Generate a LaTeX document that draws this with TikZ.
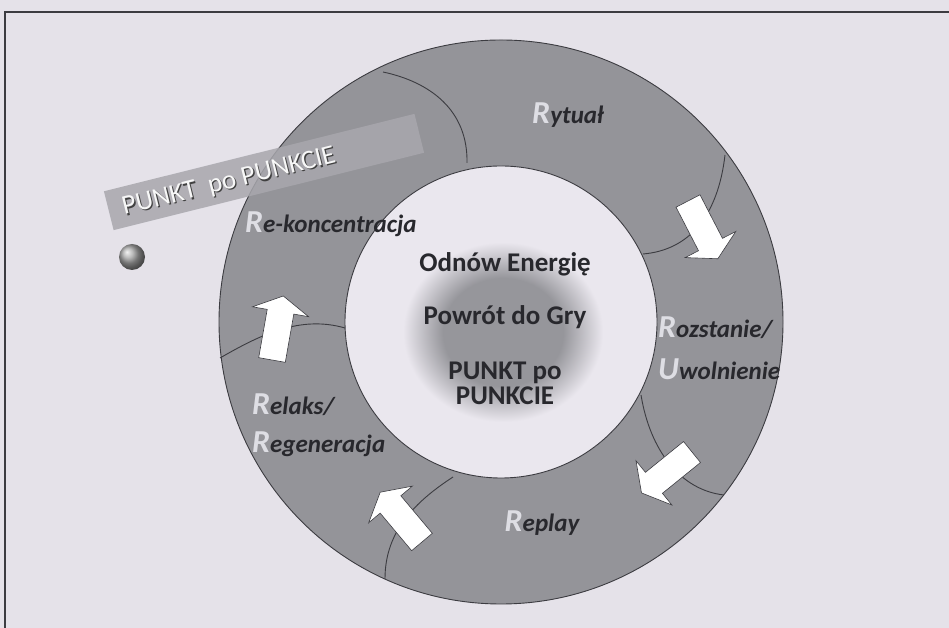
\documentclass[tikz,border=0pt]{standalone}
\usepackage{fontspec}
\setmainfont{Carlito}
\usepackage{tikz}
\usetikzlibrary{calc, shadings}
\definecolor{mybg}{RGB}{229,226,233}
\definecolor{myring}{RGB}{148,148,153}
\definecolor{mydisc}{RGB}{234,231,238}
\definecolor{myblob}{RGB}{150,150,155}
\definecolor{myink}{RGB}{40,40,45}
\definecolor{myline}{RGB}{60,60,65}
\definecolor{mybanner}{RGB}{168,167,173}
\definecolor{myinit}{RGB}{222,222,228}
\pgfdeclareradialshading{blob}{\pgfpoint{0bp}{0bp}}{color(0bp)=(myblob); color(15bp)=(myblob); color(25bp)=(mydisc); color(50bp)=(mydisc)}
\tikzstyle{divider} = [draw=myline, line width=0.9pt]
\tikzstyle{stage} = [font=\bfseries\itshape\fontsize{25}{27}\selectfont, text=myink, inner sep=0pt]
\tikzstyle{core} = [font=\bfseries\fontsize{27}{25}\selectfont, text=myink, inner sep=0pt, align=center]
\tikzstyle{banner} = [fill=mybanner, fill opacity=0.85, minimum width=320pt, minimum height=40pt, inner sep=0pt, rotate=14]
\tikzstyle{bannertext} = [font=\fontsize{27}{28}\selectfont, inner sep=0pt, rotate=14]
\newcommand{\bigletter}[1]{{\color{myinit}\fontsize{32}{32}\selectfont #1}}
\tikzset{flowarrow/.pic={
    \draw [draw=myline, line width=0.6pt, fill=white] (0,-13.5) -- (49,-13.5) -- (49,-28.5) -- (65,0) -- (49,28.5) -- (49,13.5) -- (0,13.5) -- cycle;
}}

\begin{document}
\begin{tikzpicture}[x=1pt, y=1pt]
    \useasboundingbox (0,0) rectangle (949,628);
    \fill [mybg] (0,0) rectangle (949,628);
    \draw [myline, line width=1.6pt] (5,0) -- (5,616) -- (949,616);

    \coordinate (c) at (501,306);
    % ring and inner disc
    \fill [myring, even odd rule] (c) circle[radius=282] (c) circle[radius=156];
    \fill [mydisc] (c) circle[radius=156];
    \shade [shading=blob] (503,296) ellipse[x radius=100, y radius=90];

    % borders between the stages
    \draw [divider] (383,556) .. controls (430,546) and (468,518) .. (467,465);
    \draw [divider] (725,473) .. controls (718,413) and (690,378) .. (643,374);
    \draw [divider] (641,233) .. controls (650,178) and (680,138) .. (724,133);
    \draw [divider] (453,151) .. controls (410,123) and (385,93) .. (385,49);
    \draw [divider] (220,270) .. controls (260,293) and (300,313) .. (345,300);
    \draw [divider] (c) circle[radius=282] (c) circle[radius=156];

    \pic [rotate=-62.7] at (688,427) {flowarrow};
    \pic [rotate=-141] at (692,176) {flowarrow};
    \pic [rotate=130] at (422,86) {flowarrow};
    \pic [rotate=80] at (272,268) {flowarrow};

    \node (rytual) [stage, anchor=base] at (568,504) {\bigletter{R}ytuał};
    \node (rozstanie) [stage, anchor=base west] at (658,290) {\bigletter{R}ozstanie/};
    \node (uwolnienie) [stage, anchor=base west] at (658,248) {\bigletter{U}wolnienie};
    \node (replay) [stage, anchor=base] at (542,96) {\bigletter{R}eplay};
    \node (relaks) [stage, anchor=base west] at (252,213) {\bigletter{R}elaks/};
    \node (regen) [stage, anchor=base west] at (252,175) {\bigletter{R}egeneracja};
    \node (rekonc) [stage, anchor=base west] at (245,395) {\bigletter{R}e-koncentracja};

    \node (energia) [core, anchor=base] at (505,356) {Odnów Energię};
    \node (powrot) [core, anchor=base] at (505,303) {Powrót do Gry};
    \node (punkt) [core, anchor=base] at (505,223) {PUNKT po\\PUNKCIE};

    \node (bannerbox) [banner] at (264,456) {};
    \coordinate (bt) at (229,446);
    \node [bannertext, text=black!75] at ([shift={(1.4,-1.4)}]bt) {PUNKT\ \ po PUNKCIE};
    \node (bannerlabel) [bannertext, text=white!94!gray] at (bt) {PUNKT\ \ po PUNKCIE};

    \shade [ball color=gray!70] (132,371) circle[radius=13];
\end{tikzpicture}
\end{document}
